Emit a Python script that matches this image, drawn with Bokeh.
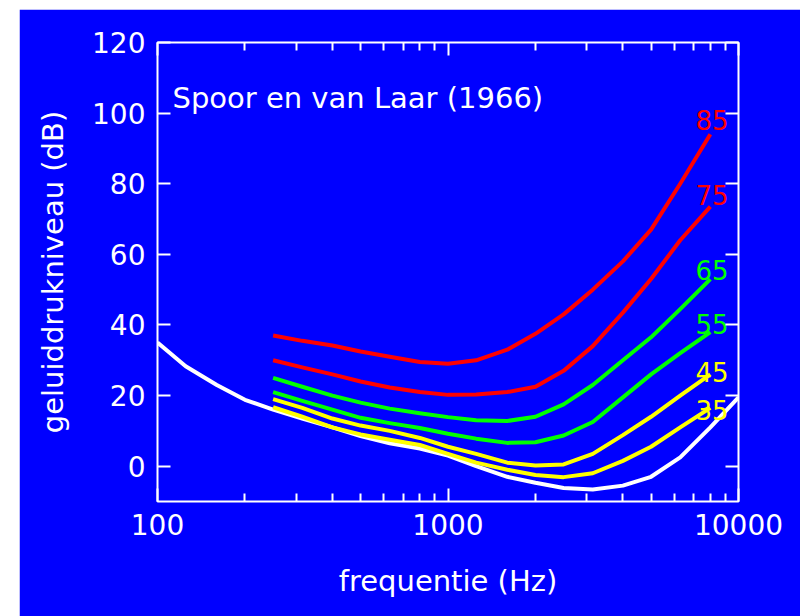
from bokeh.plotting import figure
from bokeh.models import (LinearAxis, LogAxis, FixedTicker, PrintfTickFormatter,
                          Label, Spacer, ColumnDataSource)
from bokeh.layouts import column, row
from bokeh.core.properties import value
from bokeh.embed import file_html
from bokeh.resources import INLINE

# ---------------- data ----------------
threshold_freq = [100, 125, 160, 200, 250, 315, 400, 500, 630, 800, 1000, 1250,
                  1600, 2000, 2500, 3150, 4000, 5000, 6300, 8000, 10000]
threshold_db = [35, 28.3, 23, 18.8, 16, 13.5, 11, 8.5, 6.5, 5, 3, 0,
                -3, -4.7, -6.2, -6.6, -5.5, -3, 2.5, 11, 19.5]

curve_freq = [250, 315, 400, 500, 630, 800, 1000, 1250, 1600, 2000, 2500, 3150,
              4000, 5000, 6300, 8000]
db_35 = [16.7, 14, 11, 9, 7.5, 6, 3.5, 1, -1, -2.5, -3.1, -2, 1.5, 5.5, 11, 16.5]
db_45 = [19, 16.5, 13.5, 11.5, 10, 8, 5.5, 3.5, 1, 0.2, 0.5, 3.5, 8.8, 14, 20, 26]
db_55 = [21, 18.5, 16, 13.7, 12.2, 10.8, 9.2, 7.8, 6.6, 6.8, 8.7, 12.5, 19.5, 26, 32, 38]
db_65 = [25, 22.5, 20, 18, 16.3, 15, 13.9, 13, 12.8, 14, 17.5, 23, 30, 36.5, 44.5, 53]
db_75 = [30, 28, 26, 24, 22.3, 21, 20.2, 20.3, 21, 22.5, 27, 34, 43.5, 53, 64, 73.5]
db_85 = [37, 35.5, 34.2, 32.5, 31, 29.5, 29, 30, 33, 37.5, 43, 50, 58, 67, 80, 94]

phon_labels = ["35", "45", "55", "65", "75", "85"]
phon_colors = ["#FFFF00", "#FFFF00", "#00FF00", "#00FF00", "#FF0000", "#FF0000"]
label_freq = [9250, 9250, 9250, 9250, 9250, 9250]
label_db = [15.9, 26.6, 40.2, 55.5, 76.8, 98.0]

y_ticks = [0, 20, 40, 60, 80, 100, 120]
x_ticks = [100, 1000, 10000]
x_minor = [200, 300, 400, 500, 600, 700, 800, 900,
           2000, 3000, 4000, 5000, 6000, 7000, 8000, 9000]

BLUE = "#0000FF"
FONT = "DejaVu Sans"

p = figure(width=781, height=607, x_axis_type="log",
           x_range=(100, 10000), y_range=(-10, 120),
           output_backend="svg", toolbar_location=None,
           background_fill_color=BLUE, border_fill_color=BLUE,
           min_border_left=138, min_border_top=33,
           min_border_right=62, min_border_bottom=115,
           outline_line_color="white", outline_line_width=2)
p.grid.visible = False

xa = p.xaxis[0]
xa.ticker = FixedTicker(ticks=x_ticks, minor_ticks=x_minor)
xa.formatter = PrintfTickFormatter(format="%d")
xa.axis_label = "frequentie (Hz)"
ya = p.yaxis[0]
ya.ticker = FixedTicker(ticks=y_ticks)
ya.axis_label = "geluiddrukniveau (dB)"

for ax in (xa, ya):
    ax.axis_line_color = None
    ax.major_tick_in = 13
    ax.major_tick_out = 0
    ax.minor_tick_in = 8
    ax.minor_tick_out = 0
    ax.major_tick_line_color = "white"
    ax.major_tick_line_width = 2
    ax.minor_tick_line_color = "white"
    ax.minor_tick_line_width = 2
    ax.major_label_text_color = "white"
    ax.major_label_text_font = FONT
    ax.major_label_text_font_size = "28px"
    ax.major_label_standoff = 12
    ax.axis_label_text_color = "white"
    ax.axis_label_text_font = FONT
    ax.axis_label_text_font_size = "29px"
    ax.axis_label_text_font_style = "normal"
ya.minor_tick_line_color = None
xa.axis_label_standoff = 26
ya.axis_label_standoff = 19

top = LogAxis(ticker=FixedTicker(ticks=x_ticks, minor_ticks=x_minor),
              axis_line_color=None, major_tick_in=13, major_tick_out=0,
              minor_tick_in=8, minor_tick_out=0,
              major_tick_line_color="white", minor_tick_line_color="white",
              major_tick_line_width=2, minor_tick_line_width=2,
              major_label_text_color=None, major_label_text_font_size="6px",
              major_label_standoff=0)
p.add_layout(top, "above")
right = LinearAxis(ticker=FixedTicker(ticks=y_ticks),
                   axis_line_color=None, major_tick_in=13, major_tick_out=0,
                   minor_tick_line_color=None,
                   major_tick_line_color="white", major_tick_line_width=2,
                   major_label_text_color=None, major_label_text_font_size="6px",
                   major_label_standoff=0)
p.add_layout(right, "right")

p.line(threshold_freq, threshold_db, line_color="white", line_width=4,
       line_join="round")
for ys, c in zip([db_35, db_45, db_55, db_65, db_75, db_85], phon_colors):
    p.line(curve_freq, ys, line_color=c, line_width=4, line_join="round")

src = ColumnDataSource(dict(x=label_freq, y=label_db, t=phon_labels, c=phon_colors))
p.text(x="x", y="y", text="t", text_color="c", source=src,
       text_align="right", text_baseline="alphabetic",
       text_font=value(FONT), text_font_size="26px")

p.add_layout(Label(x=112.6, y=104.2, text="Spoor en van Laar (1966)",
                   text_color="white", text_font=FONT, text_font_size="29px",
                   text_baseline="alphabetic"))

layout = column(Spacer(width=800, height=9),
                row(Spacer(width=19, height=607), p))

open("out.html", "w").write(file_html(layout, INLINE))
